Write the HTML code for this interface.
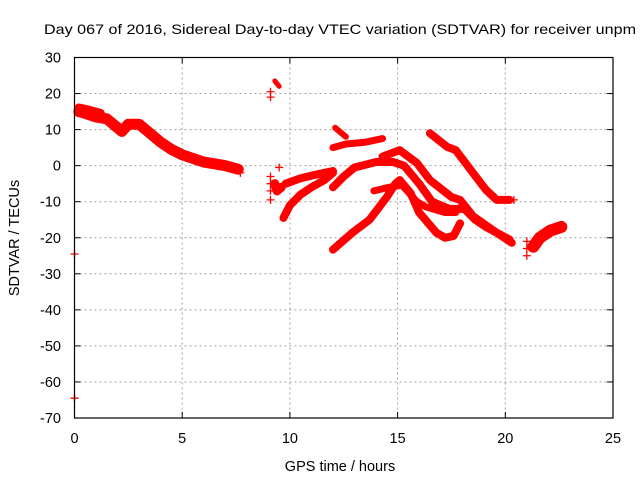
<!DOCTYPE html>
<html><head><meta charset="utf-8"><style>
body{margin:0;background:#fff;}
svg{display:block;font-family:"Liberation Sans",sans-serif;}
</style></head><body>
<svg id="chart" width="640" height="480">
<text x="44" y="34" font-size="14" textLength="592" lengthAdjust="spacingAndGlyphs" fill="#000">Day 067 of 2016, Sidereal Day-to-day VTEC variation (SDTVAR) for receiver unpm</text>
<text x="340" y="471" font-size="14.5" text-anchor="middle" fill="#000">GPS time / hours</text>
<text transform="translate(19,238) rotate(-90)" font-size="14.5" text-anchor="middle" fill="#000">SDTVAR / TECUs</text>
<g id="grid"></g><g id="marks"></g><g id="axes"></g>
</svg>
<script>
const xTicks=[0,5,10,15,20,25];
const yTicks=[30,20,10,0,-10,-20,-30,-40,-50,-60,-70];
const trackA=[[0.2,15],[0.5,14.5],[1,13.5],[1.5,13],[1.9,11],[2.2,9.5],[2.5,11.5],[3,11.5],[3.5,9],[4,6.5],[4.5,4.5],[5,3],[5.5,2],[6,1],[6.5,0.5],[7,0],[7.6,-1]];
const trackA2=[[0.2,16],[0.6,15.5],[1.2,14.5]];
const trackB=[[9.3,23.5],[9.5,22]];
const trackC=[[9.3,-5],[9.4,-7],[9.6,-6]];
const trackD=[[9.7,-14.5],[10,-11],[10.5,-8],[11,-6],[11.6,-4],[12,-2]];
const trackE=[[9.8,-5],[10.5,-3.5],[11.2,-2.5],[12,-1.5]];
const trackF=[[12.1,10.5],[12.6,8]];
const trackG=[[12,5],[12.6,6],[13.5,6.5],[14.3,7.5]];
const trackH=[[12,-6],[12.5,-3],[13,-0.5],[14,1],[14.8,1],[15.3,0],[16,-5],[16.6,-10],[17.4,-12],[18.1,-12],[18.6,-15],[19.1,-17],[20.2,-20.5]];
const trackI=[[14.3,2.5],[15.1,4.3],[15.9,0.7],[16.5,-4],[17.5,-8.7],[17.9,-9.5],[18.5,-14],[19.4,-17.8],[20.3,-21.4]];
const trackJ=[[12,-23.3],[12.9,-18.6],[13.7,-15],[14.5,-8.7],[14.9,-5],[15.1,-4],[15.6,-7.6],[16,-13],[16.8,-18.6],[17.2,-20],[17.6,-19.5],[17.9,-16]];
const trackK=[[13.9,-7],[14.6,-6],[15.2,-5.4],[15.9,-10],[16.3,-11.4],[17.2,-13],[17.7,-13]];
const trackL=[[16.5,9],[17.3,5.2],[17.7,4.3],[18.5,-2],[19.1,-6.7],[19.6,-9.5],[20.2,-9.5]];
const trackM=[[21.3,-22.5],[21.6,-20],[22.1,-18],[22.6,-17]];
const tracks=[trackA,trackA2,trackB,trackC,trackD,trackE,trackF,trackG,trackH,trackI,trackJ,trackK,trackL,trackM];
const trackNames=["a","a2","b","c","d","e","f","g","h","i","j","k","l","m"];
const trackWidth=[11,9,5,9,8,8,6,7,8,8,8,7,8,12];
const crossX=[0,0,9.1,9.1,9.1,9.1,9.1,9.1,9.5,20.4,21,21,21,7.7];
const crossY=[-24.5,-64.5,19,20.5,-3,-5,-7,-9.5,-0.5,-9.5,-21,-23,-25,-2];
const X0=74.5,X1=613,Y0=57.5,Y1=418;
const sx=h=>X0+(h-0)/25*(X1-X0);
const sy=v=>Y0+(30-v)/100*(Y1-Y0);
const NS="http://www.w3.org/2000/svg";
function mk(t,a,p){const e=document.createElementNS(NS,t);for(const k in a)e.setAttribute(k,a[k]);p.appendChild(e);return e;}
const grid=document.getElementById('grid'),marks=document.getElementById('marks'),axes=document.getElementById('axes');
xTicks.forEach(t=>{
  if(t>0&&t<25){const g=mk('line',{x1:sx(t),x2:sx(t),y1:Y0,y2:Y1,stroke:'#a0a0a0','stroke-dasharray':'2,3'},grid);
  
  }
  const l=mk('text',{x:sx(t),y:443,'font-size':14.5,'text-anchor':'middle'},axes);l.textContent=t;
  
  
  mk('line',{x1:sx(t),x2:sx(t),y1:Y1,y2:Y1-6,stroke:'#000'},axes);
  mk('line',{x1:sx(t),x2:sx(t),y1:Y0,y2:Y0+6,stroke:'#000'},axes);
});
yTicks.forEach(t=>{
  if(t<30&&t>-70){const g=mk('line',{x1:X0,x2:X1,y1:sy(t),y2:sy(t),stroke:'#a0a0a0','stroke-dasharray':'2,3'},grid);
  
  }
  const l=mk('text',{x:61,y:sy(t)+5,'font-size':14.5,'text-anchor':'end'},axes);l.textContent=t;
  
  
  mk('line',{x1:X0,x2:X0+6,y1:sy(t),y2:sy(t),stroke:'#000'},axes);
  mk('line',{x1:X1,x2:X1-6,y1:sy(t),y2:sy(t),stroke:'#000'},axes);
});
const fr=mk('rect',{x:X0,y:Y0,width:X1-X0,height:Y1-Y0,fill:'none',stroke:'#000','stroke-width':1.2},axes);


tracks.forEach((tr,i)=>{
  const p=mk('polyline',{points:tr.map(d=>sx(d[0])+','+sy(d[1])).join(' '),fill:'none',stroke:'#ff0000','stroke-width':trackWidth[i],'stroke-linejoin':'round','stroke-linecap':'round'},marks);
  
  
});
crossX.forEach((h,i)=>{
  const x=sx(h),y=sy(crossY[i]);
  const p=mk('path',{d:`M${x-4},${y}H${x+4}M${x},${y-4}V${y+4}`,stroke:'#ff0000','stroke-width':1.3},marks);
  
  
});
</script>
</body></html>
